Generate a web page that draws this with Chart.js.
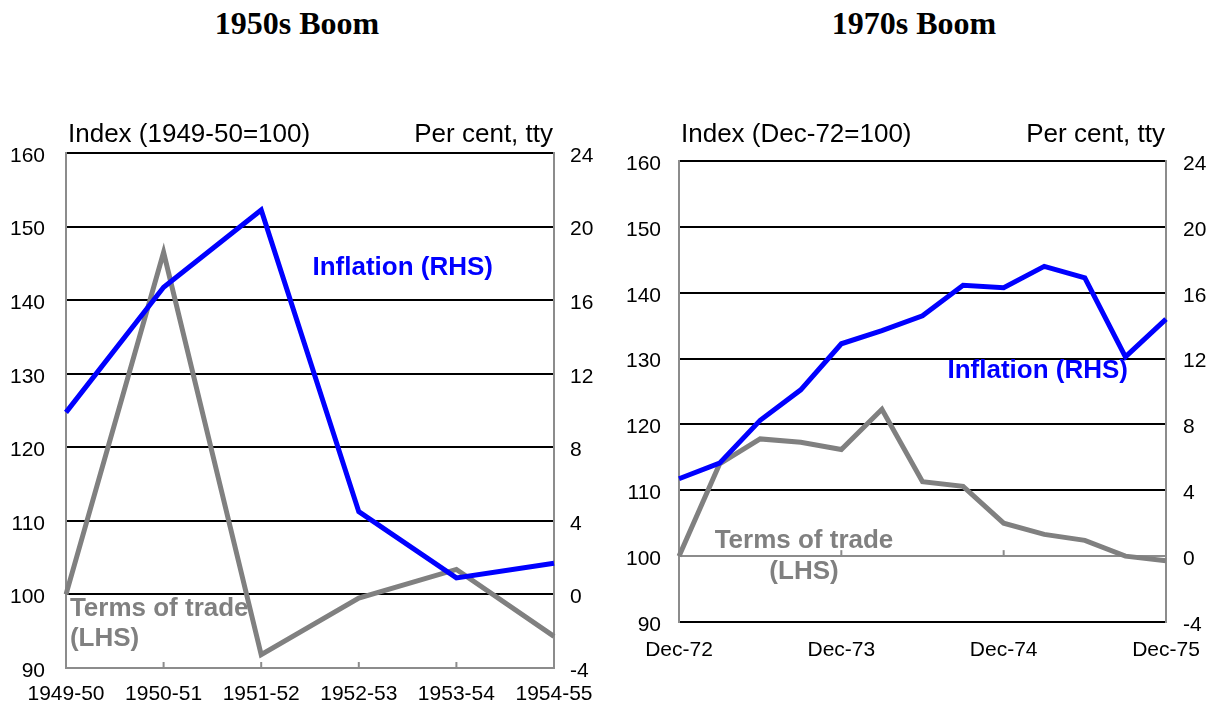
<!DOCTYPE html>
<html>
<head>
<meta charset="utf-8">
<script src="https://cdn.jsdelivr.net/npm/chart.js@4.4.1/dist/chart.umd.min.js"></script>
<style>
  body { margin: 0; background: #fff; width: 1214px; height: 706px; position: relative; overflow: hidden; }
  canvas { position: absolute; top: 0; }
  .title { position: absolute; top: 5px; font: bold 32px "Liberation Serif", "Times New Roman", serif; transform: translateX(-50%); white-space: nowrap; }
</style>
</head>
<body>
<div class="title" style="left:297px">1950s Boom</div>
<div class="title" style="left:914px">1970s Boom</div>
<canvas id="boom50" width="607" height="706" style="left:0"></canvas>
<canvas id="boom70" width="607" height="706" style="left:607px"></canvas>
<script>
// 1950s boom, annual
const years50 = ['1949-50', '1950-51', '1951-52', '1952-53', '1953-54', '1954-55'];
const tot50 = [100, 146.5, 91.8, 99.5, 103.4, 94.3];   // terms of trade, index (LHS)
const infl50 = [9.9, 16.7, 20.9, 4.5, 0.9, 1.7];       // inflation, per cent tty (RHS)

// 1970s boom, quarterly
const quarters70 = ['Dec-72', 'Mar-73', 'Jun-73', 'Sep-73', 'Dec-73', 'Mar-74', 'Jun-74',
                    'Sep-74', 'Dec-74', 'Mar-75', 'Jun-75', 'Sep-75', 'Dec-75'];
const tot70 = [100, 114.0, 117.8, 117.3, 116.2, 122.3, 111.3, 110.6, 105.0, 103.3, 102.4, 100.0, 99.3];
const infl70 = [4.7, 5.65, 8.25, 10.1, 12.9, 13.7, 14.6, 16.45, 16.3, 17.6, 16.9, 12.1, 14.4];

// axis ranges
const lhsMin = 90, lhsMax = 160, lhsStep = 10;
const rhsMin = -4, rhsMax = 24, rhsStep = 4;

const BLUE = '#0000ff';
const GREY = '#808080';
const AXIS_GREY = '#8c8c8c';
const FONT = '"Liberation Sans", Arial, sans-serif';

// draws the little axis titles, the series labels and the upward tick marks
function boomPlugin(cfg) {
    return {
        id: 'boom',
        beforeDatasetsDraw(chart) {
            const { ctx, scales } = chart;
            const yPix = scales.y.getPixelForValue(cfg.tickAt);
            ctx.save();
            ctx.strokeStyle = AXIS_GREY;
            ctx.lineWidth = 2;
            cfg.tickIdx.forEach(i => {
                const x = scales.x.getPixelForValue(i);
                ctx.beginPath();
                ctx.moveTo(x, yPix);
                ctx.lineTo(x, yPix - 6);
                ctx.stroke();
            });
            ctx.restore();
        },
        afterDraw(chart) {
            const { ctx, chartArea: a, scales } = chart;
            ctx.save();
            ctx.fillStyle = '#000';
            ctx.font = '26px ' + FONT;
            ctx.textBaseline = 'alphabetic';
            ctx.textAlign = 'left';
            ctx.fillText(cfg.indexTitle, a.left + 2, 142);
            ctx.textAlign = 'right';
            ctx.fillText('Per cent, tty', a.right - 1, 142);

            ctx.font = 'bold 26px ' + FONT;
            ctx.textBaseline = 'middle';
            cfg.notes.forEach(n => {
                ctx.fillStyle = n.color;
                ctx.textAlign = n.align;
                ctx.fillText(n.text, scales.x.getPixelForValue(n.x), scales.y.getPixelForValue(n.y));
            });
            ctx.restore();
        }
    };
}

function makeChart(id, labels, tot, infl, lay, cfg) {
    return new Chart(document.getElementById(id), {
        type: 'line',
        data: {
            labels: labels,
            datasets: [
                { label: 'Inflation (RHS)', data: infl, yAxisID: 'y1', order: 0,
                  borderColor: BLUE, borderWidth: 5, pointRadius: 0, tension: 0 },
                { label: 'Terms of trade (LHS)', data: tot, yAxisID: 'y', order: 1,
                  borderColor: GREY, borderWidth: 5, pointRadius: 0, tension: 0 }
            ]
        },
        options: {
            responsive: false,
            animation: false,
            layout: { padding: { top: lay.top, left: 0, right: 0, bottom: 0 } },
            plugins: { legend: { display: false }, tooltip: { enabled: false } },
            scales: {
                x: {
                    offset: false,
                    grid: { display: false },
                    border: { display: false },
                    ticks: {
                        color: '#000', font: { family: FONT, size: 21 }, padding: lay.xPad,
                        maxRotation: 0, autoSkip: false,
                        callback: (v, i) => cfg.showLabel(i) ? labels[i] : ''
                    },
                    afterFit: s => { s.height = lay.xH; }
                },
                y: {
                    position: 'left', min: lhsMin, max: lhsMax,
                    ticks: { stepSize: lhsStep, color: '#000', font: { family: FONT, size: 21 }, padding: lay.yPad, labelOffset: 3 },
                    grid: { drawTicks: false, lineWidth: 2,
                            color: c => (c.tick && c.tick.value === cfg.greyLine) ? AXIS_GREY : '#000' },
                    border: { color: AXIS_GREY, width: 2 },
                    afterFit: s => { s.width = lay.yW; }
                },
                y1: {
                    position: 'right', min: rhsMin, max: rhsMax,
                    ticks: { stepSize: rhsStep, color: '#000', font: { family: FONT, size: 21 }, padding: lay.y1Pad, labelOffset: 3 },
                    grid: { drawOnChartArea: false, drawTicks: false },
                    border: { color: AXIS_GREY, width: 2 },
                    afterFit: s => { s.width = lay.y1W; }
                }
            }
        },
        plugins: [boomPlugin(cfg)]
    });
}

makeChart('boom50', years50, tot50, infl50,
    { top: 153, xH: 38, xPad: 6, yW: 66, yPad: 21, y1W: 53, y1Pad: 16 },
    {
        indexTitle: 'Index (1949-50=100)',
        greyLine: 90,
        tickAt: 90,
        tickIdx: [1, 2, 3, 4],
        showLabel: () => true,
        notes: [
            { text: 'Inflation (RHS)', x: 3.45, y: 144.4, color: BLUE, align: 'center' },
            { text: 'Terms of trade', x: 0.04, y: 98.1, color: GREY, align: 'left' },
            { text: '(LHS)', x: 0.04, y: 93.9, color: GREY, align: 'left' }
        ]
    });

makeChart('boom70', quarters70, tot70, infl70,
    { top: 161, xH: 84, xPad: 8, yW: 72, yPad: 18, y1W: 48, y1Pad: 17 },
    {
        indexTitle: 'Index (Dec-72=100)',
        greyLine: 100,
        tickAt: 100,
        tickIdx: [4, 8],
        showLabel: i => i % 4 === 0,
        notes: [
            { text: 'Inflation (RHS)', x: 8.84, y: 128.2, color: BLUE, align: 'center' },
            { text: 'Terms of trade', x: 3.08, y: 102.4, color: GREY, align: 'center' },
            { text: '(LHS)', x: 3.08, y: 97.6, color: GREY, align: 'center' }
        ]
    });
</script>
</body>
</html>
